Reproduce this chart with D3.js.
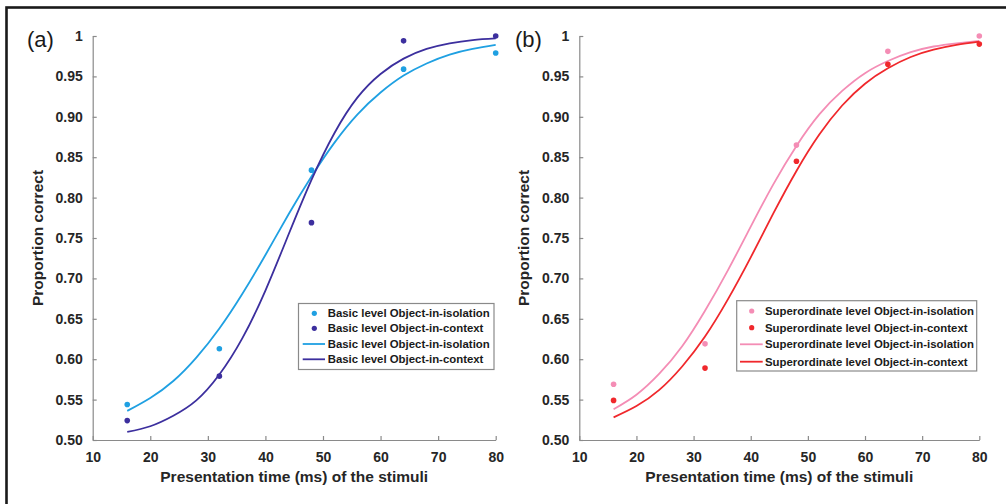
<!DOCTYPE html>
<html><head><meta charset="utf-8">
<script src="https://cdn.jsdelivr.net/npm/d3@7"></script>
<style>
html,body{margin:0;padding:0;background:#fff;}
svg{display:block;font-family:"Liberation Sans",Arial,sans-serif;}
</style></head>
<body><svg id="c" width="1006" height="504"></svg>
<script>
// ---- data ----
const xTicks = [10,20,30,40,50,60,70,80];
const yTicks = [0.5,0.55,0.6,0.65,0.7,0.75,0.8,0.85,0.9,0.95,1];
const yTickLabels = ["0.50","0.55","0.60","0.65","0.70","0.75","0.80","0.85","0.90","0.95","1"];
const pointX = [16,32,48,64,80];
const basicIsoPts = [0.544,0.613,0.834,0.959,0.979];
const basicCtxPts = [0.524,0.579,0.769,0.994,1.0];
const superIsoPts = [0.569,0.619,0.865,0.981,1.0];
const superCtxPts = [0.549,0.589,0.845,0.965,0.990];
const curveX = [16,20,24,28,32,36,40,44,48,52,56,60,64,68,72,76,80];
const basicIsoFit = [0.536,0.552,0.573,0.602,0.638,0.681,0.729,0.779,0.826,0.868,0.903,0.930,0.951,0.966,0.977,0.984,0.989];
const basicCtxFit = [0.510,0.517,0.530,0.549,0.581,0.626,0.685,0.754,0.822,0.880,0.924,0.953,0.972,0.984,0.991,0.995,0.997];
const superIsoFit = [0.538,0.556,0.582,0.616,0.660,0.710,0.764,0.817,0.864,0.903,0.932,0.954,0.969,0.980,0.987,0.991,0.994];
const superCtxFit = [0.528,0.542,0.562,0.591,0.628,0.674,0.726,0.781,0.833,0.878,0.914,0.941,0.960,0.974,0.983,0.989,0.993];
const basicLabels = ["Basic level Object-in-isolation","Basic level Object-in-context"];
const superLabels = ["Superordinate level Object-in-isolation","Superordinate level Object-in-context"];
const xTitle = "Presentation time (ms) of the stimuli";
const yTitle = "Proportion correct";

const C = {bIso:"#1fa0e2", bCtx:"#3c2f9e", sIso:"#f48db5", sCtx:"#f0282c"};

const svg = d3.select("#c");
// frame
svg.append("rect").attr("x",6.5).attr("y",7.5).attr("width",1010).attr("height",510)
  .attr("fill","none").attr("stroke","#1a1a1a").attr("stroke-width",2.6);

function panel(opt){
  const x = d3.scaleLinear().domain([10,80]).range(opt.xr);
  const y = d3.scaleLinear().domain([0.5,1]).range([440,36]);
  const g = svg.append("g");
  // axes
  const gx = g.append("g").attr("transform","translate(0,440)")
    .call(d3.axisBottom(x).tickValues(xTicks).tickSizeInner(-4).tickSizeOuter(0).tickPadding(12));
  const gy = g.append("g").attr("transform",`translate(${opt.xr[0]},0)`)
    .call(d3.axisLeft(y).tickValues(yTicks).tickSizeInner(-4).tickSizeOuter(0).tickPadding(10)
      .tickFormat((d,i)=>yTickLabels[i]));
  [gx,gy].forEach(a=>{
    a.select(".domain").attr("stroke","#8a8a8a").attr("stroke-width",1.2);
    a.selectAll(".tick line").attr("stroke","#8a8a8a").attr("stroke-width",1.2);
    a.selectAll(".tick text").attr("fill","#262626").attr("font-size",14).attr("font-weight","bold")
     .attr("font-family","Liberation Sans, Arial, sans-serif");
  });
  gx.selectAll(".tick text").attr("dy","0.71em");
  // titles
  g.append("text").attr("x",(opt.xr[0]+opt.xr[1])/2).attr("y",482).attr("text-anchor","middle")
    .attr("font-size",15.5).attr("font-weight","bold").attr("fill","#262626").text(xTitle);
  g.append("text").attr("transform",`translate(${opt.xr[0]-50},238) rotate(-90)`).attr("text-anchor","middle")
    .attr("font-size",15.5).attr("font-weight","bold").attr("fill","#262626").text(yTitle);
  g.append("text").attr("x",opt.labX).attr("y",47).attr("font-size",22).attr("fill","#1a1a1a").text(opt.label);
  // curves
  const line = d3.line().x((d,i)=>x(curveX[i])).y(d=>y(d)).curve(d3.curveNatural);
  g.append("path").attr("d",line(opt.fitIso)).attr("fill","none").attr("stroke",opt.cIso).attr("stroke-width",1.8);
  g.append("path").attr("d",line(opt.fitCtx)).attr("fill","none").attr("stroke",opt.cCtx).attr("stroke-width",1.8);
  // points
  g.selectAll(null).data(opt.ptsIso).join("circle").attr("cx",(d,i)=>x(pointX[i])).attr("cy",d=>y(d)).attr("r",2.8).attr("fill",opt.cIso);
  g.selectAll(null).data(opt.ptsCtx).join("circle").attr("cx",(d,i)=>x(pointX[i])).attr("cy",d=>y(d)).attr("r",2.8).attr("fill",opt.cCtx);
  // legend
  const L = opt.leg;
  g.append("rect").attr("x",L.x0).attr("y",L.y0).attr("width",L.x1-L.x0).attr("height",L.y1-L.y0)
    .attr("fill","#fff").attr("stroke","#8a8a8a").attr("stroke-width",1.2);
  const items = [
    {t:"pt",c:opt.cIso,l:opt.labels[0]},{t:"pt",c:opt.cCtx,l:opt.labels[1]},
    {t:"ln",c:opt.cIso,l:opt.labels[0]},{t:"ln",c:opt.cCtx,l:opt.labels[1]}];
  items.forEach((it,i)=>{
    const yy = L.rows[i];
    if(it.t==="pt") g.append("circle").attr("cx",L.mx).attr("cy",yy).attr("r",2.6).attr("fill",it.c);
    else g.append("line").attr("x1",L.lx0).attr("x2",L.lx1).attr("y1",yy).attr("y2",yy).attr("stroke",it.c).attr("stroke-width",1.8);
    g.append("text").attr("x",L.tx).attr("y",yy).attr("dy","0.35em").attr("font-size",11.4).attr("font-weight","bold")
      .attr("fill","#1a1a1a").text(it.l);
  });
}

panel({xr:[92.7,495.7], label:"(a)", labX:27, cIso:C.bIso, cCtx:C.bCtx,
  fitIso:basicIsoFit, fitCtx:basicCtxFit, ptsIso:basicIsoPts, ptsCtx:basicCtxPts, labels:basicLabels,
  leg:{x0:298.5,y0:303.5,x1:494,y1:369.5,rows:[313.3,328.3,344,359.3],mx:314.3,lx0:302.7,lx1:325,tx:327.7}});
panel({xr:[579.3,979.3], label:"(b)", labX:515, cIso:C.sIso, cCtx:C.sCtx,
  fitIso:superIsoFit, fitCtx:superCtxFit, ptsIso:superIsoPts, ptsCtx:superCtxPts, labels:superLabels,
  leg:{x0:736.7,y0:300.7,x1:976.7,y1:371,rows:[311,327.7,344.3,361.7],mx:751.7,lx0:740,lx1:762.7,tx:765}});
</script></body></html>
